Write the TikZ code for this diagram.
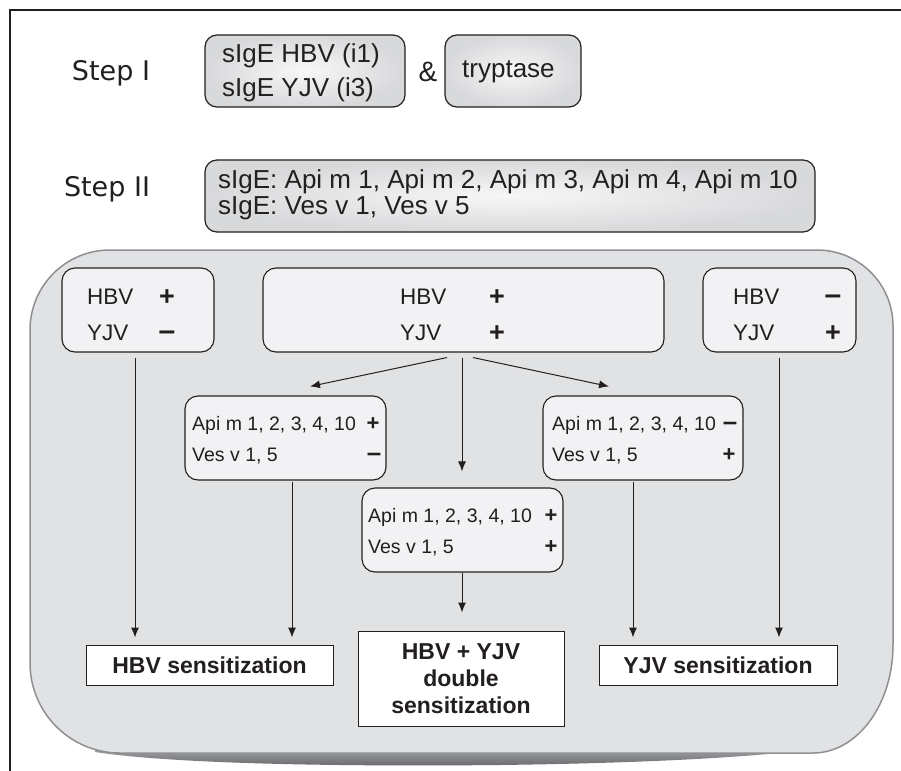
\documentclass[tikz,border=0pt]{standalone}
\usepackage{fontspec}
\setmainfont{Liberation Sans}
\newfontfamily\stepfont{DejaVu Sans}
\usetikzlibrary{arrows.meta,calc}
\definecolor{txt}{HTML}{231F20}
\definecolor{bigfill}{HTML}{E1E2E4}
\definecolor{bigdraw}{HTML}{8F9093}
\definecolor{boxfill}{HTML}{F2F2F4}
\definecolor{stepin}{HTML}{F7F7F7}
\definecolor{stepout}{HTML}{D8D9DB}
\definecolor{shadtop}{HTML}{A3A4A7}
\definecolor{shadbot}{HTML}{66676A}
\begin{document}
\begin{tikzpicture}[x=1pt,y=-1pt,
  every node/.style={text=txt},
  stepbox/.style={draw=txt,line width=1.2pt,rounded corners=12pt,inner color=stepin,outer color=stepout,minimum height=72pt,inner sep=0pt},
  inbox/.style={draw=txt,line width=1.1pt,fill=boxfill,rounded corners=13pt,inner sep=0pt,minimum height=84pt},
  resbox/.style={draw=txt,line width=1pt,fill=white,inner sep=0pt,font=\fontsize{23}{27}\selectfont\bfseries,align=center},
  bigtxt/.style={inner sep=0pt,font=\fontsize{26}{30}\selectfont,anchor=base west},
  steplbl/.style={inner sep=0pt,font=\stepfont\fontsize{27}{30}\selectfont,anchor=base},
  midtxt/.style={inner sep=0pt,font=\fontsize{22.5}{26}\selectfont,anchor=base west},
  smalltxt/.style={inner sep=0pt,font=\fontsize{19.5}{24}\selectfont,anchor=base west},
  plusbig/.style={inner sep=0pt,font=\fontsize{27}{27}\selectfont\bfseries,anchor=base},
  minusbig/.style={inner sep=0pt,font=\fontsize{30}{30}\selectfont\bfseries,anchor=base},
  plussmall/.style={inner sep=0pt,font=\fontsize{22}{22}\selectfont\bfseries,anchor=base},
  minussmall/.style={inner sep=0pt,font=\fontsize{26}{26}\selectfont\bfseries,anchor=base},
  arr/.style={draw=txt,line width=1pt,-{Latex[length=10pt,width=8pt]}}
]
\useasboundingbox (0,0) rectangle (901,770);
\fill[white] (0,0) rectangle (901,770);
% outer frame
\draw[txt,line width=2pt] (10,772) -- (10,10) -- (903,10);

% Step I
\node[steplbl] (s1) at (111,81) {Step I};
\node[stepbox,minimum width=200pt] (b1) at (305,71) {};
\node[bigtxt] (b1a) at (222,63) {sIgE HBV (i1)};
\node[bigtxt] (b1b) at (222,97) {sIgE YJV (i3)};
\node[inner sep=0pt,font=\fontsize{28}{30}\selectfont,anchor=base] (amp) at (428,82) {\&};
\node[stepbox,minimum width=136pt] (tr) at (513,71) {};
\node[bigtxt] (trt) at (462,78) {tryptase};

% Step II
\node[steplbl] (s2) at (107,196) {Step II};
\node[stepbox,minimum width=610pt] (b2) at (510,196) {};
\node[bigtxt] (b2a) at (218,188) {sIgE: Api m 1, Api m 2, Api m 3, Api m 4, Api m 10};
\node[bigtxt] (b2b) at (218,214) {sIgE: Ves v 1, Ves v 5};

% big panel with bottom shadow
\shade[top color=shadtop,bottom color=shadbot] (95,748) -- (820,748) .. controls (760,757) and (650,763) .. (500,765) .. controls (300,767) and (160,762) .. (95,752) -- cycle;
\draw[fill=bigfill,draw=bigdraw,line width=1.5pt] (30,330) .. controls (30,285.8) and (65.8,250) .. (110,250) -- (817,250) .. controls (859,250) and (893,284) .. (893,326) -- (893,645) .. controls (893,704.6) and (857.2,753) .. (813,753) -- (120,753) .. controls (70.3,753) and (30,712.7) .. (30,663) -- cycle;

% top inner boxes
\node[inbox,minimum width=152pt] (lt) at (138,310) {};
\node[inbox,minimum width=401pt] (ct) at (463.5,310) {};
\node[inbox,minimum width=153pt] (rt) at (779.5,310) {};
\node[midtxt] (lt1) at (87,304) {HBV};
\node[midtxt] (lt2) at (87,340) {YJV};
\node[plusbig] (ltp) at (167,305.5) {+};
\node[minusbig] (ltm) at (167,340.5) {–};
\node[midtxt] (ct1) at (400,304) {HBV};
\node[midtxt] (ct2) at (400,340) {YJV};
\node[plusbig] (ctp1) at (497,305.5) {+};
\node[plusbig] (ctp2) at (497,341.5) {+};
\node[midtxt] (rt1) at (733,304) {HBV};
\node[midtxt] (rt2) at (733,340) {YJV};
\node[minusbig] (rtm) at (833,304.5) {–};
\node[plusbig] (rtp) at (833,341.5) {+};

% sub boxes
\node[inbox,minimum width=201pt] (ls) at (285.5,438) {};
\node[inbox,minimum width=200pt] (rs) at (643,438) {};
\node[inbox,minimum width=201pt] (ms) at (462.5,530) {};
\node[smalltxt] (ls1) at (192,430) {Api m 1, 2, 3, 4, 10};
\node[smalltxt] (ls2) at (192,461) {Ves v 1, 5};
\node[plussmall] (lsp) at (373,430.5) {+};
\node[minussmall] (lsm) at (374,461.5) {–};
\node[smalltxt] (rs1) at (552,430) {Api m 1, 2, 3, 4, 10};
\node[smalltxt] (rs2) at (552,461) {Ves v 1, 5};
\node[minussmall] (rsm) at (730,430.5) {–};
\node[plussmall] (rsp) at (729,461.5) {+};
\node[smalltxt] (ms1) at (368,522) {Api m 1, 2, 3, 4, 10};
\node[smalltxt] (ms2) at (368,553) {Ves v 1, 5};
\node[plussmall] (msp1) at (551,522.5) {+};
\node[plussmall] (msp2) at (551,553.5) {+};

% result boxes
\node[resbox,minimum width=247pt,minimum height=40pt] (hs) at (209.5,665) {HBV sensitization};
\node[resbox,minimum width=206pt,minimum height=95pt] (ds) at (461,678.5) {HBV + YJV\\double\\sensitization};
\node[resbox,minimum width=238pt,minimum height=40pt] (ys) at (718,665) {YJV sensitization};

% connectors
\coordinate (xa) at (135,0);
\coordinate (xb) at (292,0);
\coordinate (xc) at (462,0);
\coordinate (xd) at (633,0);
\coordinate (xe) at (779,0);
\draw[arr,shorten <=5pt,shorten >=7pt] (lt.south -| xa) -- (hs.north -| xa);
\draw[arr,shorten <=1pt,shorten >=7pt] (ls.south -| xb) -- (hs.north -| xb);
\draw[arr] ([xshift=-16.5pt,yshift=-5pt]ct.south) -- ([xshift=24.5pt,yshift=9pt]ls.north);
\draw[arr] ([xshift=9.5pt,yshift=-5pt]ct.south) -- ([xshift=-34pt,yshift=9pt]rs.north);
\draw[arr,shorten <=5pt,shorten >=16pt] (ct.south -| xc) -- (ms.north -| xc);
\draw[arr,shorten >=18pt] (ms.south -| xc) -- (ds.north -| xc);
\draw[arr,shorten <=1pt,shorten >=7pt] (rs.south -| xd) -- (ys.north -| xd);
\draw[arr,shorten <=5pt,shorten >=7pt] (rt.south -| xe) -- (ys.north -| xe);
\end{tikzpicture}
\end{document}
